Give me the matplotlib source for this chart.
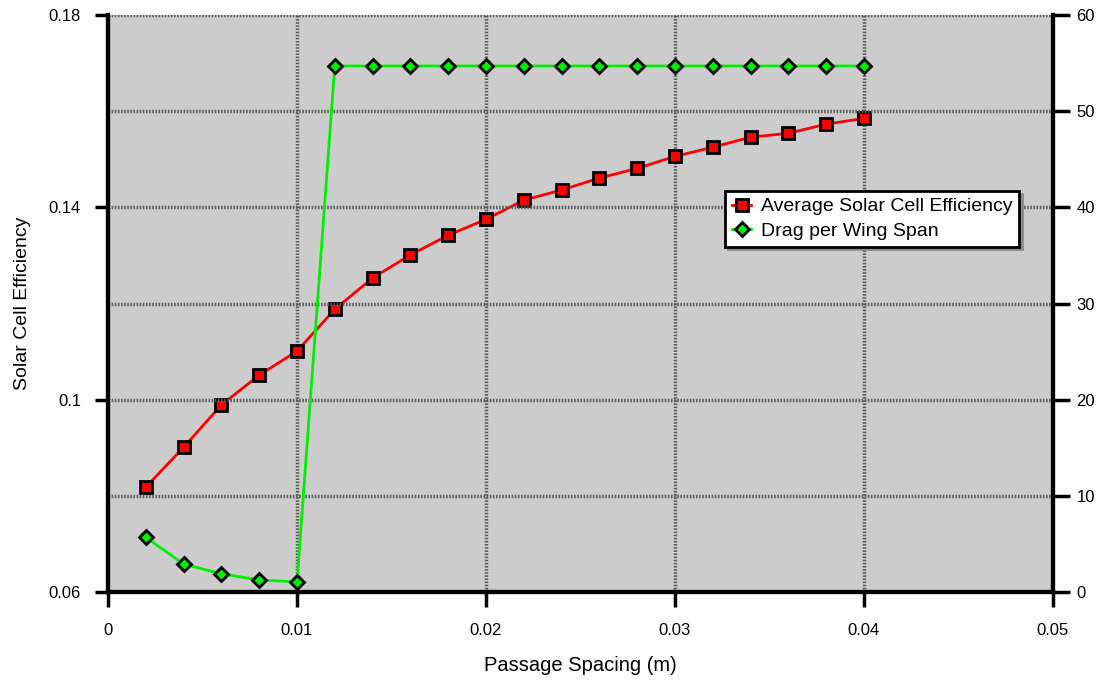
import matplotlib.pyplot as plt
from matplotlib.ticker import FixedLocator, FuncFormatter

plt.rcParams['font.family'] = ['Liberation Sans', 'DejaVu Sans']

# passage spacing (m)
spacing = [0.002, 0.004, 0.006, 0.008, 0.010, 0.012, 0.014, 0.016, 0.018, 0.020,
           0.022, 0.024, 0.026, 0.028, 0.030, 0.032, 0.034, 0.036, 0.038, 0.040]
# average solar cell efficiency (left axis)
efficiency = [0.0818, 0.0901, 0.0989, 0.1051, 0.1101, 0.1188, 0.1253, 0.1301,
              0.1342, 0.1375, 0.1415, 0.1436, 0.1461, 0.1481, 0.1506, 0.1525,
              0.1546, 0.1554, 0.1573, 0.1585]
# drag per wing span (right axis)
drag = [5.7, 2.9, 1.9, 1.25, 1.05, 54.7, 54.7, 54.7, 54.7, 54.7,
        54.7, 54.7, 54.7, 54.7, 54.7, 54.7, 54.7, 54.7, 54.7, 54.7]

x_ticks = [0, 0.01, 0.02, 0.03, 0.04, 0.05]
left_ticks = [0.06, 0.1, 0.14, 0.18]
right_ticks = [0, 10, 20, 30, 40, 50, 60]


def fmt(v, pos=None):
    return f'{v:.2f}'.rstrip('0').rstrip('.')


fig = plt.figure(figsize=(11.02, 6.80), dpi=100)
ax = fig.add_axes([0.098, 0.1294, 0.8575, 0.8485])
ax.set_facecolor('#cccccc')
ax2 = ax.twinx()

# checkered-looking grid lines
grid_kw = dict(color='#5a5a5a', linewidth=2.5, linestyle=(0, (0.45, 0.45)), zorder=0.5)
for gx in x_ticks[1:-1]:
    ax.axvline(gx, **grid_kw)
for gy in right_ticks:
    ax2.axhline(gy, **grid_kw)

l1, = ax.plot(spacing, efficiency, color='#ff0000', linewidth=2,
              marker='s', markersize=9, markerfacecolor='#ff0000',
              markeredgecolor='black', markeredgewidth=2,
              label='Average Solar Cell Efficiency')
l2, = ax2.plot(spacing, drag, color='#00ee00', linewidth=2,
               marker='D', markersize=7.5, markerfacecolor='#00ee00',
               markeredgecolor='black', markeredgewidth=2,
               label='Drag per Wing Span')

ax.set_xlim(0, 0.05)
ax.set_ylim(0.06, 0.18)
ax2.set_ylim(0, 60)

ax.xaxis.set_major_locator(FixedLocator(x_ticks))
ax.xaxis.set_major_formatter(FuncFormatter(fmt))
ax.yaxis.set_major_locator(FixedLocator(left_ticks))
ax.yaxis.set_major_formatter(FuncFormatter(fmt))
ax2.yaxis.set_major_locator(FixedLocator(right_ticks))

for a in (ax, ax2):
    a.spines['top'].set_visible(False)
    for s in ('left', 'right', 'bottom'):
        a.spines[s].set_linewidth(3)
ax.tick_params(axis='x', direction='out', length=11, width=2.5, labelsize=12, pad=11)
ax.tick_params(axis='y', direction='out', length=9.5, width=2.5, labelsize=12, pad=10)
ax2.tick_params(axis='y', direction='out', length=12, width=2.5, labelsize=12, pad=5)

ax.set_xlabel('Passage Spacing (m)', fontsize=14.5, labelpad=13)
ax.set_ylabel('Solar Cell Efficiency', fontsize=14, labelpad=13)

leg = ax2.legend(handles=[l1, l2], loc='upper left', bbox_to_anchor=(0.653, 0.695),
                 borderaxespad=0, fontsize=14, frameon=True, fancybox=False,
                 shadow={'color': '#8a8a8a', 'alpha': 1}, handlelength=1.0,
                 handletextpad=0.5, borderpad=0.35, labelspacing=0.35)
leg.get_frame().set_edgecolor('black')
leg.get_frame().set_linewidth(2)
leg.get_frame().set_alpha(1)

fig.savefig('out.png', dpi=100)
